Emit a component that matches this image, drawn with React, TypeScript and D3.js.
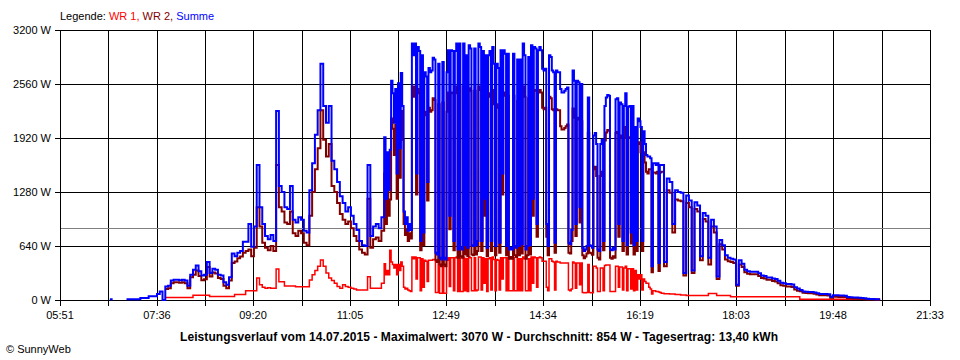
import React from 'react';
import * as d3 from 'd3';

// Sample times (minutes since midnight); finer sampling 11:42-16:42
const TIMES: number[] = [
  405,408,411,414,417,420,423,426,429,432,
  435,438,441,444,447,450,453,456,459,462,
  465,468,471,474,477,480,483,486,489,492,
  495,498,501,504,507,510,513,516,519,522,
  525,528,531,534,537,540,543,546,549,552,
  555,558,561,564,567,570,573,576,579,582,
  585,588,591,594,597,600,603,606,609,612,
  615,618,621,624,627,630,633,636,639,642,
  645,648,651,654,657,660,663,666,669,672,
  675,678,681,684,687,690,693,696,699,
  702,703.5,705,706.5,708,709.5,711,712.5,714,715.5,
  717,718.5,720,721.5,723,724.5,726,727.5,729,730.5,
  732,733.5,735,736.5,738,739.5,741,742.5,744,745.5,
  747,748.5,750,751.5,753,754.5,756,757.5,759,760.5,
  762,763.5,765,766.5,768,769.5,771,772.5,774,775.5,
  777,778.5,780,781.5,783,784.5,786,787.5,789,790.5,
  792,793.5,795,796.5,798,799.5,801,802.5,804,805.5,
  807,808.5,810,811.5,813,814.5,816,817.5,819,820.5,
  822,823.5,825,826.5,828,829.5,831,832.5,834,835.5,
  837,838.5,840,841.5,843,844.5,846,847.5,849,850.5,
  852,853.5,855,856.5,858,859.5,861,862.5,864,865.5,
  867,868.5,870,871.5,873,874.5,876,877.5,879,880.5,
  882,883.5,885,886.5,888,889.5,891,892.5,894,895.5,
  897,898.5,900,901.5,903,904.5,906,907.5,909,910.5,
  912,913.5,915,916.5,918,919.5,921,922.5,924,925.5,
  927,928.5,930,931.5,933,934.5,936,937.5,939,940.5,
  942,943.5,945,946.5,948,949.5,951,952.5,954,955.5,
  957,958.5,960,961.5,963,964.5,966,967.5,969,970.5,
  972,973.5,975,976.5,978,979.5,981,982.5,984,985.5,
  987,988.5,990,991.5,993,994.5,996,997.5,999,1000.5,
  1002,
  1005,1008,1011,1014,1017,1020,1023,1026,1029,1032,
  1035,1038,1041,1044,1047,1050,1053,1056,1059,1062,
  1065,1068,1071,1074,1077,1080,1083,1086,1089,1092,
  1095,1098,1101,1104,1107,1110,1113,1116,1119,1122,
  1125,1128,1131,1134,1137,1140,1143,1146,1149,1152,
  1155,1158,1161,1164,1167,1170,1173,1176,1179,1182,
  1185,1188,1191,1194,1197,1200,1203,1206,1209,1212,
  1215,1218,1221,1224,1227,1230,1233,1236,1239,
];

// Summe (W)
const SUMME: (number | null)[] = [
  10,10,null,null,null,null,10,10,10,10,
  10,25,25,25,45,45,45,70,100,0,
  160,170,230,240,240,235,240,230,170,300,
  360,410,340,290,300,450,320,370,360,300,
  290,210,180,270,550,520,560,580,690,690,
  900,630,870,1600,1100,900,760,720,770,700,
  2240,1350,1280,1100,1080,1350,950,920,980,950,
  820,800,1300,1620,1960,2250,2800,2300,2100,2300,
  1650,1550,1400,1230,1150,1050,1100,1000,900,830,
  700,650,640,1600,760,870,900,850,980,
  1930,1200,1750,1300,1780,2600,2450,2100,2500,1500,
  2570,1800,2690,2300,1050,900,980,820,900,830,
  3040,2900,3040,1500,3000,2950,700,2900,800,2700,
  2650,1400,2750,2700,2720,2870,2850,560,540,2800,
  500,480,2820,500,480,2700,2960,1000,2960,2950,
  700,2950,3040,600,3040,620,600,3040,650,2900,
  620,3020,2980,650,640,2980,650,700,3040,3000,
  700,2950,1200,2900,620,2900,2950,700,3000,2800,
  640,2800,2750,680,2960,1500,2960,2920,640,2920,
  600,620,600,2920,640,620,2850,640,2850,660,
  3040,2900,600,640,2880,650,3020,1200,3000,2980,
  900,2960,3000,2960,2740,2720,2740,900,640,2900,
  2880,2720,2700,680,2720,2700,2700,2500,2460,2460,
  2480,2500,2520,680,660,830,2720,2600,900,2600,
  2580,1100,2560,620,580,600,640,2400,650,640,
  620,1950,1980,1850,600,580,1850,1900,700,2300,
  2400,2430,2420,600,590,620,600,2380,2390,900,
  2340,2320,700,2300,2450,650,2290,2300,800,2300,
  650,2050,700,2150,2120,2050,700,2000,1850,1720,
  1700,1700,1680,400,1620,1620,1600,1620,440,1600,
  1600,
  450,1440,1400,900,1300,1280,1270,320,1240,1180,
  350,1160,1120,520,1030,1000,500,950,870,280,
  710,650,530,500,490,480,180,470,430,360,
  340,335,335,335,316,290,284,268,268,255,
  250,229,205,198,190,190,185,150,135,118,
  100,99,95,95,90,80,72,70,70,68,
  40,55,55,52,52,50,35,32,30,30,
  28,25,20,14,12,12,10,10,10,
];

// WR 1 (W)
const WR1: (number | null)[] = [
  null,null,null,null,null,null,null,null,null,null,
  null,null,null,null,null,null,null,null,null,null,
  30,30,30,30,30,30,30,30,30,30,
  57,57,57,57,57,57,42,42,42,42,
  42,42,42,42,42,65,65,65,65,110,
  110,110,110,260,180,150,140,145,140,140,
  367,217,217,166,166,166,166,158,158,158,
  158,158,237,300,350,400,474,400,320,260,
  230,200,160,140,180,160,150,140,130,118,
  118,118,118,276,140,140,140,140,200,
  430,300,350,300,590,450,420,380,420,300,
  420,350,450,400,150,130,140,120,110,100,
  510,490,510,250,500,500,110,490,150,470,
  460,220,470,470,470,480,480,90,90,480,
  80,80,480,80,80,470,500,160,500,500,
  110,500,510,100,510,100,100,510,110,490,
  100,510,500,110,110,500,110,120,510,510,
  120,500,200,490,100,490,500,120,510,480,
  110,480,470,120,500,250,500,500,110,500,
  110,110,110,500,110,110,490,110,490,110,
  510,490,110,110,490,110,510,200,510,500,
  150,500,510,500,460,460,460,150,110,490,
  490,460,450,120,460,450,450,440,440,440,
  440,440,440,120,110,130,450,440,140,440,
  440,180,440,90,85,85,90,420,90,85,
  85,400,400,380,100,100,380,380,110,410,
  415,415,415,100,100,100,100,400,400,150,
  390,390,120,380,400,110,370,370,130,370,
  110,350,120,300,250,300,120,250,220,200,
  200,150,130,70,110,110,100,100,95,90,
  80,
  75,75,70,70,65,65,60,60,52,52,
  52,52,52,52,52,52,78,78,78,52,
  52,52,52,52,40,40,40,40,40,40,
  40,40,40,40,40,40,40,40,40,40,
  40,40,40,40,40,40,40,40,40,8,
  8,8,8,8,8,8,8,8,8,8,
  8,8,8,8,8,8,8,8,8,8,
  8,8,8,8,8,8,8,8,8,
];

// WR 2 (W)
const WR2: (number | null)[] = [
  null,null,null,null,null,null,null,null,null,null,
  null,null,null,null,null,null,null,null,null,null,
  130,140,200,210,210,205,210,200,140,270,
  300,350,285,235,245,390,280,325,315,260,
  250,170,140,230,440,455,495,515,560,580,
  600,520,620,1100,870,680,620,590,640,580,
  1600,1100,1050,920,900,1050,790,760,820,790,
  680,650,1000,1280,1550,1800,2250,1900,1700,1850,
  1350,1280,1150,1020,950,900,930,850,760,700,
  600,560,540,1200,620,720,740,700,820,
  1500,900,1400,1000,1190,2150,2030,1720,2080,1200,
  2150,1450,2240,1900,900,770,840,700,790,730,
  2530,2410,2530,1250,2500,2450,590,2410,650,2230,
  2190,1180,2280,2230,2250,2390,2370,470,450,2320,
  420,400,2340,420,400,2230,2460,840,2460,2450,
  590,2450,2530,500,2530,520,500,2530,540,2410,
  520,2510,2480,540,530,2480,540,580,2530,2490,
  580,2450,1000,2410,520,2410,2450,580,2490,2320,
  530,2320,2280,560,2460,1250,2460,2420,530,2420,
  490,510,490,2420,530,510,2360,530,2360,550,
  2530,2410,490,530,2390,540,2510,1000,2490,2480,
  750,2460,2490,2460,2280,2260,2280,750,530,2410,
  2390,2260,2250,560,2260,2250,2250,2060,2020,2020,
  2040,2060,2080,560,550,700,2270,2160,760,2160,
  2140,920,2120,530,495,515,550,1980,560,555,
  535,1550,1580,1470,500,480,1470,1520,590,1890,
  1985,2015,2005,500,490,520,500,1980,1990,750,
  1950,1930,580,1920,2050,540,1920,1930,670,1930,
  540,1700,580,1850,1870,1750,580,1750,1630,1520,
  1500,1550,1550,330,1510,1510,1500,1520,345,1510,
  1520,
  400,1300,1270,800,1190,1180,1170,290,1150,1100,
  320,1080,1050,470,960,930,420,870,800,250,
  660,600,480,460,450,440,170,420,390,330,
  310,305,305,305,285,260,255,240,240,225,
  220,200,175,170,160,160,155,125,110,103,
  85,84,80,80,75,65,57,55,55,53,
  28,40,40,37,37,35,22,20,18,18,
  16,14,10,6,5,5,4,3,3,
];

const X_TICKS = ['05:51', '07:36', '09:20', '11:05', '12:49', '14:34', '16:19', '18:03', '19:48', '21:33'];
const Y_TICKS = [0, 640, 1280, 1920, 2560, 3200];
const AVERAGE = 854;
const TITLE = 'Leistungsverlauf vom 14.07.2015 - Maximalwert: 3070 W - Durchschnitt: 854 W - Tagesertrag: 13,40 kWh';
const COPYRIGHT = '\u00A9 SunnyWeb';

const toMin = (s: string) => {
  const [h, m] = s.split(':').map(Number);
  return h * 60 + m;
};

const FONT = '"Liberation Sans", Arial, sans-serif';

export default function App() {
  const W = 960;
  const H = 360;
  const left = 60;
  const right = 930;
  const top = 30;
  const bottom = 300;

  const x = d3.scaleLinear().domain([toMin(X_TICKS[0]), toMin(X_TICKS[X_TICKS.length - 1])]).range([left, right]);
  const y = d3.scaleLinear().domain([0, 3200]).range([bottom, top]);

  const tickMins = X_TICKS.map(toMin);
  const gridMins: number[] = [];
  tickMins.forEach((t, i) => {
    gridMins.push(t);
    if (i < tickMins.length - 1) gridMins.push((t + tickMins[i + 1]) / 2);
  });

  const px = (v: number) => Math.round(v) + 0.5;

  const makeLine = (vals: (number | null)[]) =>
    d3
      .line<number>()
      .defined((_, i) => vals[i] != null)
      .x((t) => x(t))
      .y((_, i) => y(vals[i] as number))
      .curve(d3.curveStepAfter)(TIMES) || '';

  return (
    <svg
      width={W}
      height={H}
      style={{ position: 'absolute', left: 0, top: 0, background: '#fff', display: 'block' }}
      fontFamily={FONT}
    >
      <rect x={0} y={0} width={W} height={H} fill="#fff" />
      <text x={60} y={20} fontSize={11}>
        <tspan fill="#000">Legende: </tspan>
        <tspan fill="#ff0000">WR 1, </tspan>
        <tspan fill="#800000">WR 2, </tspan>
        <tspan fill="#0000ff">Summe</tspan>
      </text>
      <g stroke="#000" strokeWidth={1} shapeRendering="crispEdges">
        {Y_TICKS.map((v) => (
          <line key={'h' + v} x1={left - 5} x2={right + 1} y1={px(y(v))} y2={px(y(v))} />
        ))}
        {gridMins.map((t, i) => (
          <line key={'v' + i} x1={px(x(t))} x2={px(x(t))} y1={top} y2={bottom + 6} />
        ))}
      </g>
      <line x1={left + 1} x2={right} y1={px(y(AVERAGE))} y2={px(y(AVERAGE))} stroke="#808080" strokeWidth={1} shapeRendering="crispEdges" />
      <path d={makeLine(WR1)} fill="none" stroke="#ff0000" strokeWidth={1.5} />
      <path d={makeLine(WR2)} fill="none" stroke="#800000" strokeWidth={2} />
      <path d={makeLine(SUMME)} fill="none" stroke="#0000ff" strokeWidth={2} />
      {Y_TICKS.map((v) => (
        <text key={'yl' + v} x={51} y={y(v)} dy="0.35em" textAnchor="end" fontSize={11} fill="#000">
          {v + ' W'}
        </text>
      ))}
      {X_TICKS.map((s) => (
        <text key={'xl' + s} x={x(toMin(s))} y={319} textAnchor="middle" fontSize={11} fill="#000">
          {s}
        </text>
      ))}
      <text x={479} y={341} textAnchor="middle" fontSize={12} fontWeight="bold" fill="#000" textLength={598} lengthAdjust="spacing">
        {TITLE}
      </text>
      <text x={6} y={353} fontSize={11} fill="#000">
        {COPYRIGHT}
      </text>
    </svg>
  );
}
